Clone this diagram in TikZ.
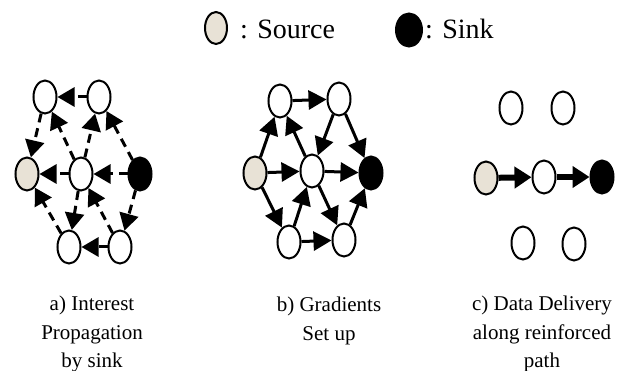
\documentclass[tikz,border=0pt]{standalone}
\usepackage{fontspec}
\setmainfont{Liberation Serif}
\usetikzlibrary{arrows.meta, shapes.geometric}
\definecolor{sourcefill}{RGB}{232,226,214}
\tikzset{
	sensor/.style = {ellipse, draw, line width = 2pt, minimum width = 23pt, minimum height = 33pt, inner sep = 0pt, fill = white},
	source/.style = {sensor, fill = sourcefill},
	sink/.style = {sensor, fill = black},
	interest/.style = {line width = 3pt, dash pattern = on 9pt off 6pt, -{Triangle[length = 17pt, width = 19pt]}},
	gradient/.style = {line width = 3pt, -{Triangle[length = 18pt, width = 19pt]}},
	reinforced/.style = {line width = 6pt, -{Triangle[length = 17pt, width = 21pt]}},
	caption/.style = {align = center, font = \fontsize{21}{28.5}\selectfont},
	legend/.style = {inner sep = 0pt, font = \fontsize{28}{34}\selectfont}
}
\begin{document}
\begin{tikzpicture}[x = 1pt, y = -1pt]
	\useasboundingbox (0, 0) rectangle (625, 371);
	% legend
	\node[source, minimum width = 22pt, minimum height = 32pt] (leg-src) at (216, 28) {};
	\node[legend, anchor = base west] (leg-src-txt) at (240, 39) {: Source};
	\node[sink, minimum width = 26pt] (leg-snk) at (409, 30) {};
	\node[legend, anchor = base west] (leg-snk-txt) at (425, 39) {: Sink};
	% a) interest propagation
	\node[sensor] (a-tl)  at (45, 97)   {};
	\node[sensor] (a-tr)  at (99, 97)   {};
	\node[source] (a-src) at (27, 174)  {};
	\node[sensor] (a-mid) at (81, 174)  {};
	\node[sink]   (a-snk) at (140, 174) {};
	\node[sensor] (a-bl)  at (69, 247)  {};
	\node[sensor] (a-br)  at (120, 247) {};
	\draw[interest] (a-tr)  -- (a-tl);
	\draw[interest] (a-tl)  -- (a-src);
	\draw[interest] (a-mid) -- (a-tl);
	\draw[interest] (a-mid) -- (a-tr);
	\draw[interest] (a-snk) -- (a-tr);
	\draw[interest] (a-mid) -- (a-src);
	\draw[interest] (a-snk) -- (a-mid);
	\draw[interest] (a-mid) -- (a-bl);
	\draw[interest] (a-bl)  -- (a-src);
	\draw[interest] (a-br)  -- (a-mid);
	\draw[interest] (a-snk) -- (a-br);
	\draw[interest] (a-br)  -- (a-bl);
	\node[caption] (a-cap) at (92, 334) {a) Interest\\Propagation\\by sink};
	% b) gradients
	\node[sensor] (b-tl)  at (280, 101) {};
	\node[sensor] (b-tr)  at (339, 99)  {};
	\node[source] (b-src) at (255, 173) {};
	\node[sensor] (b-mid) at (312, 171) {};
	\node[sink]   (b-snk) at (371, 173) {};
	\node[sensor] (b-bl)  at (289, 242) {};
	\node[sensor] (b-br)  at (344, 240) {};
	\draw[gradient] (b-tl)  -- (b-tr);
	\draw[gradient] (b-src) -- (b-tl);
	\draw[gradient] (b-mid) -- (b-tl);
	\draw[gradient] (b-tr)  -- (b-mid);
	\draw[gradient] (b-tr)  -- (b-snk);
	\draw[gradient] (b-src) -- (b-mid);
	\draw[gradient] (b-mid) -- (b-snk);
	\draw[gradient] (b-src) -- (b-bl);
	\draw[gradient] (b-bl)  -- (b-mid);
	\draw[gradient] (b-mid) -- (b-br);
	\draw[gradient] (b-bl)  -- (b-br);
	\draw[gradient] (b-br)  -- (b-snk);
	\node[caption] (b-cap) at (329, 321) {b) Gradients\\Set up};
	% c) data delivery
	\node[sensor] (c-tl)  at (511, 108) {};
	\node[sensor] (c-tr)  at (563, 108) {};
	\node[source] (c-src) at (486, 178) {};
	\node[sensor] (c-mid) at (544, 177) {};
	\node[sink]   (c-snk) at (602, 177) {};
	\node[sensor] (c-bl)  at (523, 243) {};
	\node[sensor] (c-br)  at (574, 244) {};
	\draw[reinforced] (c-src) -- (c-mid);
	\draw[reinforced] (c-mid) -- (c-snk);
	\node[caption] (c-cap) at (542, 334) {c) Data Delivery\\along reinforced\\path};
\end{tikzpicture}
\end{document}
